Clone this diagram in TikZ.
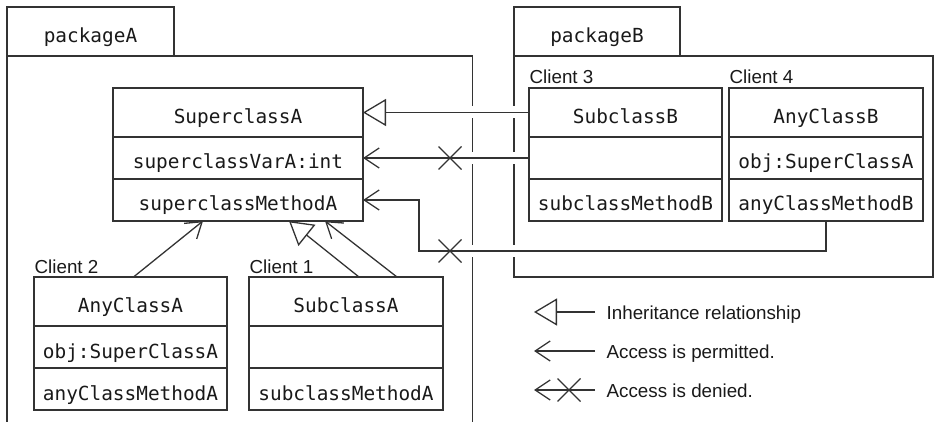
\documentclass[tikz,border=0pt]{standalone}
\usepackage{fontspec}
\newfontfamily\monof{DejaVu Sans Mono}
\newfontfamily\labf{Liberation Sans}
\usetikzlibrary{arrows.meta,shapes.misc}
\begin{document}
\begin{tikzpicture}[x=1pt,y=-1pt,line width=1.3pt,color=black!80,text=black!90,
  cls/.style={draw, inner sep=0pt, outer sep=0pt, font=\monof\fontsize{19.4}{22}\selectfont, text height=24pt, text depth=2pt, minimum width=194pt},
  hrow/.style={cls, minimum height=49pt},
  arow/.style={cls, minimum height=42pt},
  tabbox/.style={cls, minimum height=49pt, anchor=north west},
  lab/.style={inner sep=0pt, font=\labf\fontsize{18.8}{22}\selectfont, anchor=base west},
  inh/.style={-{Triangle[open, length=23pt, width=27pt, line width=1.3pt]}},
  acc/.style={-{Straight Barb[length=15pt, width=20pt, line width=1.3pt]}},
  xmark/.style={cross out, draw, minimum size=23pt, inner sep=0pt, outer sep=0pt}
]
\useasboundingbox (0,0) rectangle (936,422);

% packages
\node[tabbox, minimum width=167pt] (pkgAtab) at (7,7) {packageA};
\coordinate (pAbl) at (7,422);
\coordinate (pAtr) at (472.5,56);
\coordinate (pAbr) at (472.5,422);
\draw (pAbl) -- (pkgAtab.south west) -- (pAtr) -- (pAbr);

\node[tabbox, minimum width=166pt] (pkgBtab) at (514,7) {packageB};
\node[draw, minimum width=419pt, minimum height=221pt, anchor=north west, inner sep=0pt, outer sep=0pt] (pkgB) at (514,56) {};

% line-hop gaps
\foreach \yy in {112.5,158,251} {
  \fill[white] (469.5,\yy-6) rectangle (475.5,\yy+6);
  \fill[white] (511,\yy-6) rectangle (517,\yy+6);
}

% SuperclassA
\node[hrow, anchor=north west, minimum width=250pt] (SupA1) at (113,88) {SuperclassA};
\node[arow, anchor=north, minimum width=250pt] (SupA2) at (SupA1.south) {superclassVarA:int};
\node[arow, anchor=north, minimum width=250pt] (SupA3) at (SupA2.south) {superclassMethodA};

% SubclassB
\node[hrow, anchor=north west, minimum width=193pt] (SubB1) at (529,88) {SubclassB};
\node[arow, anchor=north, minimum width=193pt] (SubB2) at (SubB1.south) {};
\node[arow, anchor=north, minimum width=193pt] (SubB3) at (SubB2.south) {subclassMethodB};
\node[lab] (c3) at ([yshift=4pt]SubB1.north west) {Client 3};

% AnyClassB
\node[hrow, anchor=north west] (AnyB1) at (729,88) {AnyClassB};
\node[arow, anchor=north] (AnyB2) at (AnyB1.south) {obj:SuperClassA};
\node[arow, anchor=north] (AnyB3) at (AnyB2.south) {anyClassMethodB};
\node[lab] (c4) at ([yshift=4pt]AnyB1.north west) {Client 4};

% AnyClassA
\node[hrow, anchor=north west, minimum width=193pt] (AnyA1) at (34,277) {AnyClassA};
\node[arow, anchor=north, minimum width=193pt] (AnyA2) at (AnyA1.south) {obj:SuperClassA};
\node[arow, anchor=north, minimum width=193pt] (AnyA3) at (AnyA2.south) {anyClassMethodA};
\node[lab] (c2) at ([yshift=4pt]AnyA1.north west) {Client 2};

% SubclassA
\node[hrow, anchor=north west] (SubA1) at (249,277) {SubclassA};
\node[arow, anchor=north] (SubA2) at (SubA1.south) {};
\node[arow, anchor=north] (SubA3) at (SubA2.south) {subclassMethodA};
\node[lab] (c1) at ([yshift=4pt]SubA1.north west) {Client 1};

% connectors
\draw[inh] (SubB1.west) -- (SupA1.east);
\draw[acc] (SubB2.west) -- (SupA2.east);
\node[xmark] (x1) at (450,158) {};
\coordinate (bend) at (419,251);
\draw[acc] (AnyB3.south) |- (bend) |- (SupA3.east);
\node[xmark] (x2) at (450,251) {};

\draw[acc] ([xshift=3pt]AnyA1.north) -- ([xshift=-35pt]SupA3.south);
\draw[inh] ([xshift=13pt]SubA1.north) -- ([xshift=51pt]SupA3.south);
\draw[acc] ([xshift=51pt]SubA1.north) -- ([xshift=87pt]SupA3.south);

% legend
\coordinate (l1a) at (595,312); \coordinate (l1b) at (534,312);
\draw[inh] (l1a) -- (l1b);
\node[lab] (leg1) at (606,319) {Inheritance relationship};
\coordinate (l2a) at (595,351); \coordinate (l2b) at (534,351);
\draw[acc] (l2a) -- (l2b);
\node[lab] (leg2) at (606,358) {Access is permitted.};
\coordinate (l3a) at (595,390); \coordinate (l3b) at (534,390);
\draw[acc] (l3a) -- (l3b);
\node[xmark] (x3) at (569,390) {};
\node[lab] (leg3) at (606,397) {Access is denied.};
\end{tikzpicture}
\end{document}
